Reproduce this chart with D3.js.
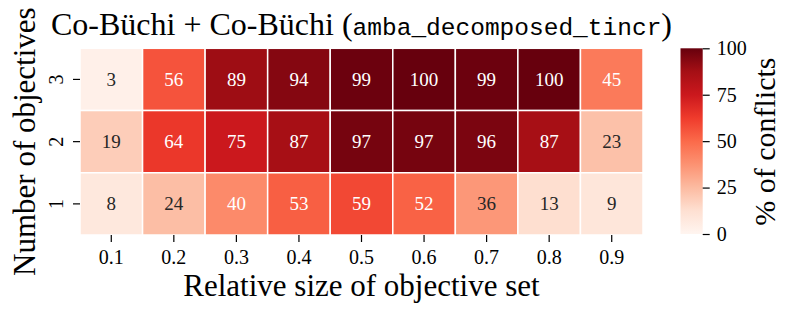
<!DOCTYPE html>
<html>
<head>
<meta charset="utf-8">
<script src="https://cdn.jsdelivr.net/npm/d3@7"></script>
<style>
  body { margin: 0; background: #fff; }
</style>
</head>
<body>
<div id="chart"></div>
<script>
// rows top to bottom, columns left to right
const rows = ["3", "2", "1"];
const cols = ["0.1", "0.2", "0.3", "0.4", "0.5", "0.6", "0.7", "0.8", "0.9"];
const row3 = [3, 56, 89, 94, 99, 100, 99, 100, 45];
const row2 = [19, 64, 75, 87, 97, 97, 96, 87, 23];
const row1 = [8, 24, 40, 53, 59, 52, 36, 13, 9];
const cbarTicks = [0, 25, 50, 75, 100];
// matplotlib "Reds"
const redsStops = ["#fff5f0", "#fee0d2", "#fcbba1", "#fc9272", "#fb6a4a",
                   "#ef3b2c", "#cb181d", "#a50f15", "#67000d"];

const SERIF = "'Liberation Serif', 'Times New Roman', serif";
const MONO = "'Liberation Mono', 'DejaVu Sans Mono', monospace";

const width = 793, height = 316;
const margin = { top: 48.3, right: 150, bottom: 81, left: 80 };
const innerW = width - margin.left - margin.right;
const innerH = height - margin.top - margin.bottom;

const cells = [];
[row3, row2, row1].forEach((vals, i) => {
  vals.forEach((v, j) => cells.push({ row: rows[i], col: cols[j], value: v }));
});

const color = d3.scaleLinear()
  .domain(redsStops.map((_, i) => i * 100 / (redsStops.length - 1)))
  .range(redsStops)
  .interpolate(d3.interpolateRgb)
  .clamp(true);

// seaborn picks annotation colour by relative luminance
function textColor(c) {
  const rgb = d3.rgb(c);
  const lin = (v) => {
    v /= 255;
    return v <= 0.03928 ? v / 12.92 : Math.pow((v + 0.055) / 1.055, 2.4);
  };
  const lum = 0.2126 * lin(rgb.r) + 0.7152 * lin(rgb.g) + 0.0722 * lin(rgb.b);
  return lum > 0.408 ? "#262626" : "#ffffff";
}

const svg = d3.select("#chart")
  .append("svg")
  .attr("width", width)
  .attr("height", height);

const g = svg.append("g")
  .attr("transform", `translate(${margin.left},${margin.top})`);

const x = d3.scaleBand().domain(cols).range([0, innerW]);
const y = d3.scaleBand().domain(rows).range([0, innerH]);

// Cells
g.append("g").selectAll("rect")
  .data(cells)
  .join("rect")
  .attr("x", (d) => x(d.col))
  .attr("y", (d) => y(d.row))
  .attr("width", x.bandwidth())
  .attr("height", y.bandwidth())
  .attr("fill", (d) => color(d.value))
  .attr("stroke", "#fff")
  .attr("stroke-width", 1.5);

// Annotations
g.append("g").selectAll("text")
  .data(cells)
  .join("text")
  .attr("x", (d) => x(d.col) + x.bandwidth() / 2)
  .attr("y", (d) => y(d.row) + y.bandwidth() / 2)
  .attr("dy", "0.33em")
  .attr("text-anchor", "middle")
  .attr("font-family", SERIF)
  .attr("font-size", 19)
  .attr("fill", (d) => textColor(color(d.value)))
  .text((d) => d.value);

// X axis
const xAxisG = g.append("g")
  .attr("transform", `translate(0,${innerH})`)
  .call(d3.axisBottom(x).tickSize(7).tickPadding(8));
xAxisG.attr("font-family", SERIF).attr("font-size", 20);
xAxisG.select(".domain").remove();
xAxisG.selectAll(".tick line").attr("stroke", "#000").attr("stroke-width", 1.2);
xAxisG.selectAll(".tick text").attr("fill", "#000");

// Y axis, labels rotated
const yAxisG = g.append("g")
  .call(d3.axisLeft(y).tickSize(7));
yAxisG.attr("font-family", SERIF).attr("font-size", 20);
yAxisG.select(".domain").remove();
yAxisG.selectAll(".tick line").attr("stroke", "#000").attr("stroke-width", 1.2);
yAxisG.selectAll(".tick text")
  .attr("x", null)
  .attr("dy", null)
  .attr("fill", "#000")
  .attr("text-anchor", "middle")
  .attr("transform", "translate(-17,0) rotate(-90)");

// Axis labels
g.append("text")
  .attr("x", innerW / 2)
  .attr("y", innerH + 61)
  .attr("text-anchor", "middle")
  .attr("font-family", SERIF)
  .attr("font-size", 31)
  .text("Relative size of objective set");

g.append("text")
  .attr("transform", `translate(${35 - margin.left},${innerH / 2}) rotate(-90)`)
  .attr("text-anchor", "middle")
  .attr("font-family", SERIF)
  .attr("font-size", 31)
  .text("Number of objectives");

// Title
const title = g.append("text")
  .attr("x", innerW / 2)
  .attr("y", 35 - margin.top)
  .attr("text-anchor", "middle")
  .attr("font-family", SERIF)
  .attr("font-size", 32);
title.append("tspan").text("Co-Büchi + Co-Büchi (");
title.append("tspan")
  .attr("font-family", MONO)
  .attr("font-size", 24.5)
  .text("amba_decomposed_tincr");
title.append("tspan").text(")");

// Colorbar
const cbX = 680.5 - margin.left, cbW = 22.2;
const cbScale = d3.scaleLinear().domain([0, 100]).range([innerH - 1, 0]);

const grad = svg.append("defs").append("linearGradient")
  .attr("id", "cbar-grad")
  .attr("x1", 0).attr("y1", 1).attr("x2", 0).attr("y2", 0);
grad.selectAll("stop")
  .data(redsStops)
  .join("stop")
  .attr("offset", (d, i) => i / (redsStops.length - 1))
  .attr("stop-color", (d) => d);

g.append("rect")
  .attr("x", cbX)
  .attr("y", cbScale(100))
  .attr("width", cbW)
  .attr("height", cbScale(0) - cbScale(100))
  .attr("fill", "url(#cbar-grad)");

const cbAxisG = g.append("g")
  .attr("transform", `translate(${cbX + cbW},0)`)
  .call(d3.axisRight(cbScale).tickValues(cbarTicks).tickSize(7).tickPadding(7));
cbAxisG.attr("font-family", SERIF).attr("font-size", 20);
cbAxisG.select(".domain").remove();
cbAxisG.selectAll(".tick line").attr("stroke", "#000").attr("stroke-width", 1.2);
cbAxisG.selectAll(".tick text").attr("fill", "#000");

g.append("text")
  .attr("transform", `translate(${775 - margin.left},${innerH / 2}) rotate(-90)`)
  .attr("text-anchor", "middle")
  .attr("font-family", SERIF)
  .attr("font-size", 30)
  .text("% of conflicts");
</script>
</body>
</html>
